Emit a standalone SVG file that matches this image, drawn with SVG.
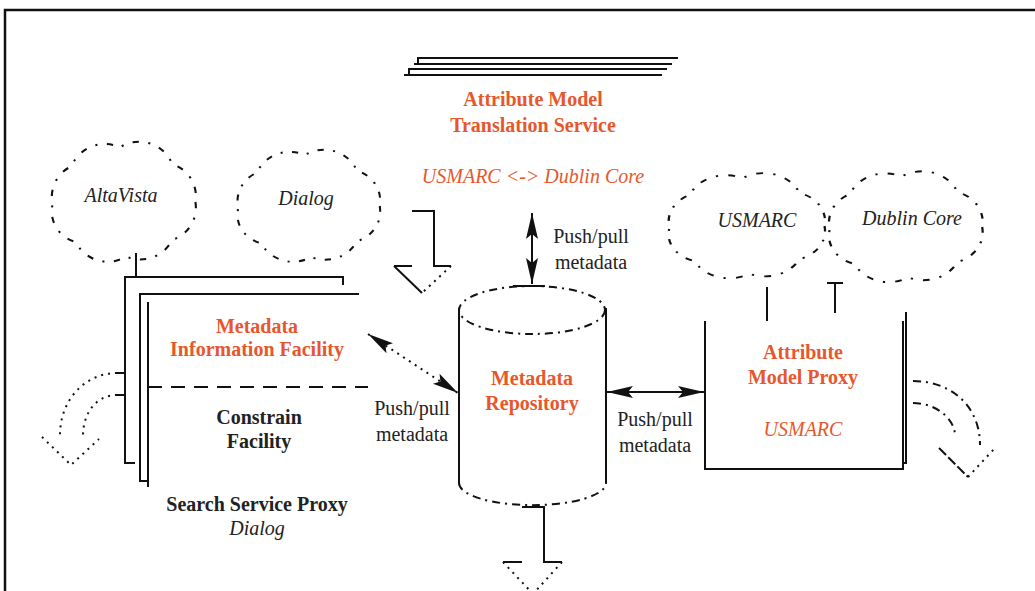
<svg xmlns="http://www.w3.org/2000/svg" width="1035" height="591" viewBox="0 0 1035 591">
<style>
.t{font-family:"Times New Roman","Liberation Serif",Tinos,"Noto Serif","DejaVu Serif",FreeSerif,serif;font-size:20px;text-anchor:middle;fill:#222}
.b{font-weight:bold}
.i{font-style:italic}
.o{fill:#E8572B}
.ln{fill:none;stroke:#111;stroke-width:2}
.cl{fill:none;stroke:#111;stroke-width:2;stroke-dasharray:6 9 2 9}
.dot{fill:none;stroke:#111;stroke-width:2;stroke-dasharray:2 5}
.dd{fill:none;stroke:#111;stroke-width:2;stroke-dasharray:8 5 2 5}
</style>
<defs>
<path id="cloud" d="M68,0 A32,32 0 0,1 46,36 A34,34 0 0,1 2,52 A34,34 0 0,1 -46,38 A30,30 0 0,1 -68,2 A32,32 0 0,1 -50,-34 A34,34 0 0,1 -4,-52 A34,34 0 0,1 46,-36 A32,32 0 0,1 68,0 Z"/>
<marker id="ah" viewBox="0 0 26 14" refX="26" refY="7" markerWidth="26" markerHeight="14" markerUnits="userSpaceOnUse" orient="auto-start-reverse">
<path d="M0,1 L26,7 L0,13 L5,7 Z" fill="#111"/>
</marker>
</defs>
<rect width="1035" height="591" fill="#fff"/>
<path d="M5,591 V10 H1035" fill="none" stroke="#111" stroke-width="2.5"/>

<g id="translation-service">
<path class="ln" d="M418,64 V58 H678 M414,64 H672 M409,75 V69 H667 M404,75 H662"/>
<text class="t b o" x="533" y="106">Attribute Model</text>
<text class="t b o" x="533" y="132">Translation Service</text>
<text class="t i o" x="533" y="183">USMARC &lt;-&gt; Dublin Core</text>
</g>

<g id="cloud-altavista">
<use href="#cloud" class="cl" transform="translate(124,202) scale(1.05,1.05)"/>
<text class="t i" x="121" y="202" font-size="19">AltaVista</text>
</g>
<g id="cloud-dialog">
<use href="#cloud" class="cl" transform="translate(309,206) scale(1.04,0.98)"/>
<text class="t i" x="306" y="205" font-size="18">Dialog</text>
</g>
<g id="cloud-usmarc">
<use href="#cloud" class="cl" transform="translate(747,226) scale(1.14,0.92)"/>
<text class="t i" x="757" y="227">USMARC</text>
</g>
<g id="cloud-dublin">
<use href="#cloud" class="cl" transform="translate(906,227) scale(1.12,0.97)"/>
<text class="t i" x="912" y="225">Dublin Core</text>
</g>

<g id="search-service-proxy">
<path class="ln" d="M343,285 V277 H125 V463 H135 M359,294 H140 V481 H148 M148,302 V487"/>
<line x1="148" y1="387" x2="368" y2="387" stroke="#111" stroke-width="2" stroke-dasharray="14 9"/>
<text class="t b o" x="257" y="333">Metadata</text>
<text class="t b o" x="257" y="356">Information Facility</text>
<text class="t b" x="259" y="424">Constrain</text>
<text class="t b" x="259" y="448">Facility</text>
<text class="t b" x="257" y="511">Search Service Proxy</text>
<text class="t i" x="257" y="535">Dialog</text>
</g>

<g id="metadata-repository">
<ellipse class="dd" cx="532" cy="310" rx="73" ry="24"/>
<path class="ln" d="M459,308 V483 M606,308 V483"/>
<path class="dd" d="M459,483 A73,22 0 0,0 606,483"/>
<text class="t b o" x="532" y="385">Metadata</text>
<text class="t b o" x="532" y="410">Repository</text>
</g>

<g id="attribute-model-proxy">
<path class="ln" d="M705,321 V469 H903 V321 M903,463 H906 V312"/>
<text class="t b o" x="803" y="359">Attribute</text>
<text class="t b o" x="803" y="384">Model Proxy</text>
<text class="t i o" x="803" y="436">USMARC</text>
</g>

<g id="connectors">
<path class="ln" d="M136,253 V277"/>
<path class="ln" d="M767,287 V321 M835,283 V313 M827,283 H843"/>
<path class="ln" d="M412,211 H434 V266 H451 M394,266 H412"/>
<path class="ln" d="M394,266 L422,293"/>
<path class="dot" d="M451,266 L422,293"/>
<path class="ln" d="M522,507 H544 V562 H562 M503,562 H522"/>
<path class="dot" d="M503,562 L533,594 M562,562 L533,594"/>
<path class="ln" d="M513,286 H545"/>
<line class="ln" x1="532" y1="248" x2="532" y2="213" marker-end="url(#ah)"/>
<line class="ln" x1="532" y1="248" x2="532" y2="284" marker-end="url(#ah)"/>
<text class="t" x="591" y="243">Push/pull</text>
<text class="t" x="591" y="269">metadata</text>
<line class="ln" x1="607" y1="392" x2="704" y2="392" marker-start="url(#ah)" marker-end="url(#ah)"/>
<text class="t" x="655" y="426">Push/pull</text>
<text class="t" x="655" y="452">metadata</text>
<line class="dot" x1="368" y1="334" x2="458" y2="393"/>
<line x1="390" y1="348.4" x2="368" y2="334" stroke="none" marker-end="url(#ah)"/>
<line x1="436" y1="378.6" x2="458" y2="393" stroke="none" marker-end="url(#ah)"/>
<text class="t" x="412" y="415">Push/pull</text>
<text class="t" x="412" y="441">metadata</text>
<path class="ln" d="M117,373 H125 M117,395 H125"/>
<path class="dot" d="M117,373 C85,373 60,400 60,435 M117,395 C97,395 83,412 83,436 M42,437 L71,465 L99,439"/>
<path class="dd" d="M913,381 C950,381 980,405 980,445 M913,403 C935,403 955,418 955,436"/>
<path class="ln" d="M939,448 L968,477" stroke-dasharray="10 3"/>
<path class="dot" d="M968,477 L995,448"/>
</g>
</svg>
